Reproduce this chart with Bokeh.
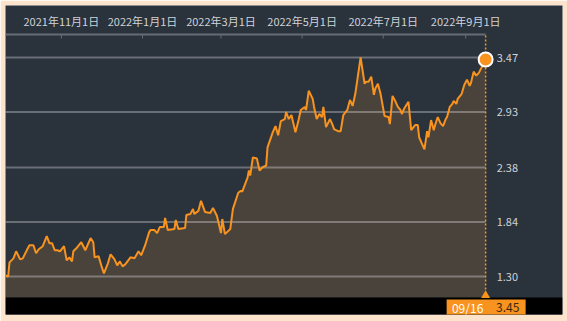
import numpy as np
import pandas as pd
from bokeh.plotting import figure
from bokeh.models import Range1d
from bokeh.core.properties import value
from bokeh.embed import file_html
from bokeh.resources import INLINE

# ---------------- data ----------------
BASE_DATE = "2021-11-01"
day_offsets = [
    -42, -40, -39, -36, -34, -31, -29, -26, -24, -21,
    -19, -17, -14, -11, -9, -7, -5, -3, -1, 2,
    4, 6, 8, 9, 12, 15, 18, 22, 24, 25,
    28, 30, 32, 35, 37, 40, 42, 44, 46, 48,
    52, 55, 58, 60, 63, 66, 67, 70, 72, 74,
    77, 78, 80, 85, 86, 88, 93, 94, 97, 99,
    100, 103, 105, 108, 112, 114, 117, 120, 121, 123,
    127, 129, 130, 133, 135, 136, 140, 141, 142, 144,
    147, 149, 151, 154, 155, 159, 161, 163, 165, 168,
    169, 171, 173, 176, 178, 180, 183, 184, 186, 189,
    190, 192, 194, 196, 197, 199, 202, 204, 205, 208,
    210, 212, 215, 217, 219, 221, 223, 225, 228, 229,
    231, 233, 235, 236, 238, 240, 243, 246, 247, 249,
    251, 253, 255, 256, 258, 261, 263, 266, 268, 269,
    271, 273, 275, 276, 278, 280, 281, 283, 285, 287,
    289, 290, 292, 294, 295, 297, 298, 301, 303, 305,
    307, 308, 310, 312, 314, 319,
]
prices = [
    1.31, 1.30, 1.44, 1.48, 1.55, 1.47, 1.48, 1.56, 1.61, 1.61,
    1.53, 1.57, 1.60, 1.70, 1.63, 1.63, 1.56, 1.56, 1.55, 1.60,
    1.46, 1.49, 1.45, 1.55, 1.59, 1.64, 1.56, 1.68, 1.64, 1.49,
    1.50, 1.41, 1.33, 1.43, 1.52, 1.47, 1.41, 1.45, 1.40, 1.42,
    1.49, 1.48, 1.55, 1.51, 1.61, 1.74, 1.76, 1.76, 1.73, 1.79,
    1.79, 1.88, 1.76, 1.77, 1.86, 1.77, 1.78, 1.91, 1.92, 1.97,
    1.92, 1.95, 2.05, 1.94, 1.93, 1.98, 1.90, 1.73, 1.87, 1.72,
    1.77, 1.97, 2.01, 2.13, 2.15, 2.14, 2.28, 2.35, 2.30, 2.48,
    2.47, 2.35, 2.38, 2.40, 2.58, 2.73, 2.79, 2.70, 2.84, 2.86,
    2.93, 2.86, 2.90, 2.73, 2.83, 2.95, 2.98, 2.95, 3.14, 3.06,
    2.98, 2.86, 2.91, 2.88, 2.98, 2.78, 2.86, 2.80, 2.76, 2.74,
    2.74, 2.90, 2.95, 3.05, 2.99, 3.11, 3.29, 3.47, 3.21, 3.23,
    3.23, 3.28, 3.10, 3.16, 3.21, 3.11, 2.89, 2.88, 2.81, 3.09,
    3.04, 2.98, 2.95, 2.91, 2.97, 3.03, 2.75, 2.80, 2.80, 2.68,
    2.62, 2.56, 2.74, 2.68, 2.85, 2.75, 2.80, 2.88, 2.82, 2.79,
    2.86, 2.88, 2.98, 3.01, 3.04, 3.01, 3.06, 3.11, 3.20, 3.25,
    3.19, 3.22, 3.33, 3.29, 3.32, 3.45,
]
x_tick_dates = ["2021-11-01", "2022-01-01", "2022-03-01",
                "2022-05-01", "2022-07-01", "2022-09-01"]
x_tick_labels = ["2021年11月1日", "2022年1月1日", "2022年3月1日",
                 "2022年5月1日", "2022年7月1日", "2022年9月1日"]
y_ticks = [1.30, 1.84, 2.38, 2.93, 3.47]
y_tick_labels = ["1.30", "1.84", "2.38", "2.93", "3.47"]
last_date_label = "09/16"
last_value_label = "3.45"

# ---------------- layout / style ----------------
W, H = 567, 321
ML, MR, MT, MB = 5, 5, 5, 7
FW = W - ML - MR
FH = H - MT - MB
PX_PER_DAY = 1.33

BG = "#2a323c"
BORDER = "#fce3cb"
ORANGE = "#f7931e"
FILL = "#4a433c"
TXT = "#cfd3d8"
FONT = value("Noto Sans CJK JP")

dates = pd.Timestamp(BASE_DATE) + pd.to_timedelta(day_offsets, unit="D")
dates = pd.DatetimeIndex(dates)
tick_dates = pd.to_datetime(x_tick_dates)

lo, hi = y_ticks[0], y_ticks[-1]
ppu = 219.0 / (hi - lo)          # pixels per value unit
y_top = hi + 52 / ppu
y_bot = y_top - FH / ppu
strip_top = lo - 21 / ppu
axis_y = hi + 23 / ppu
label_y = hi + 37 / ppu

x_start = dates[0]
x_end = x_start + pd.Timedelta(days=FW / PX_PER_DAY)
last_d = dates[-1]

def dpx(px):
    return pd.Timedelta(days=px / PX_PER_DAY)

p = figure(width=W, height=H, output_backend="svg", toolbar_location=None,
           x_range=Range1d(x_start, x_end), y_range=Range1d(y_bot, y_top),
           x_axis_location=None, y_axis_location=None,
           min_border_left=ML, min_border_right=MR,
           min_border_top=MT, min_border_bottom=MB,
           background_fill_color=BG, border_fill_color=BORDER,
           outline_line_color=None)
p.xgrid.visible = False
p.ygrid.visible = False

# area under line
p.varea(x=dates, y1=strip_top, y2=prices, fill_color=FILL)

# horizontal grid lines
p.segment(x0=[dates[0]] * len(y_ticks), x1=[last_d] * len(y_ticks),
          y0=y_ticks, y1=y_ticks, line_color="#ffffff", line_alpha=0.3,
          line_width=2)

# top axis line and ticks
p.segment(x0=[dates[0]], x1=[last_d], y0=[axis_y], y1=[axis_y],
          line_color="#666c74", line_width=2)
p.segment(x0=tick_dates, x1=tick_dates, y0=[axis_y] * len(tick_dates),
          y1=[axis_y - 4 / ppu] * len(tick_dates),
          line_color="#666c74", line_width=1)
p.text(x=tick_dates, y=[label_y] * len(tick_dates), text=x_tick_labels,
       text_font=FONT, text_font_size="11px", text_color=TXT,
       text_align="center", text_baseline="middle")

# price line
p.line(x=dates, y=prices, line_color=ORANGE, line_width=2)

# bottom black strip
p.quad(left=[x_start], right=[x_end], bottom=[y_bot - 1], top=[strip_top],
       fill_color="#000000", line_color=None)

# vertical dotted marker line
p.segment(x0=[last_d], x1=[last_d], y0=[strip_top], y1=[axis_y],
          line_color=ORANGE, line_width=1.5, line_dash="2 2")

# right labels
p.text(x=[last_d] * len(y_ticks), y=y_ticks, text=y_tick_labels,
       x_offset=11, text_font=FONT, text_font_size="11px", text_color=TXT,
       text_align="left", text_baseline="middle")

# last point marker
p.scatter(x=[last_d], y=[prices[-1]], size=14, fill_color=ORANGE,
          line_color="#ffffff", line_width=2)

# bottom value box
box_top = lo - 23 / ppu
p.quad(left=[last_d - dpx(39)], right=[last_d + dpx(40)],
       bottom=[y_bot - 1], top=[box_top], fill_color=ORANGE, line_color=None)
p.scatter(x=[last_d], y=[lo - 19 / ppu], marker="triangle", size=9,
          fill_color=ORANGE, line_color=None)
p.text(x=[last_d], y=[lo - 31 / ppu], text=[last_date_label], x_offset=-18,
       text_font=FONT, text_font_size="12px", text_color="#ffffff",
       text_align="center", text_baseline="middle")
p.text(x=[last_d], y=[lo - 31 / ppu], text=[last_value_label], x_offset=22,
       text_font=FONT, text_font_size="12px", text_color="#3a2810",
       text_align="center", text_baseline="middle")

open("out.html", "w").write(file_html(p, INLINE))
